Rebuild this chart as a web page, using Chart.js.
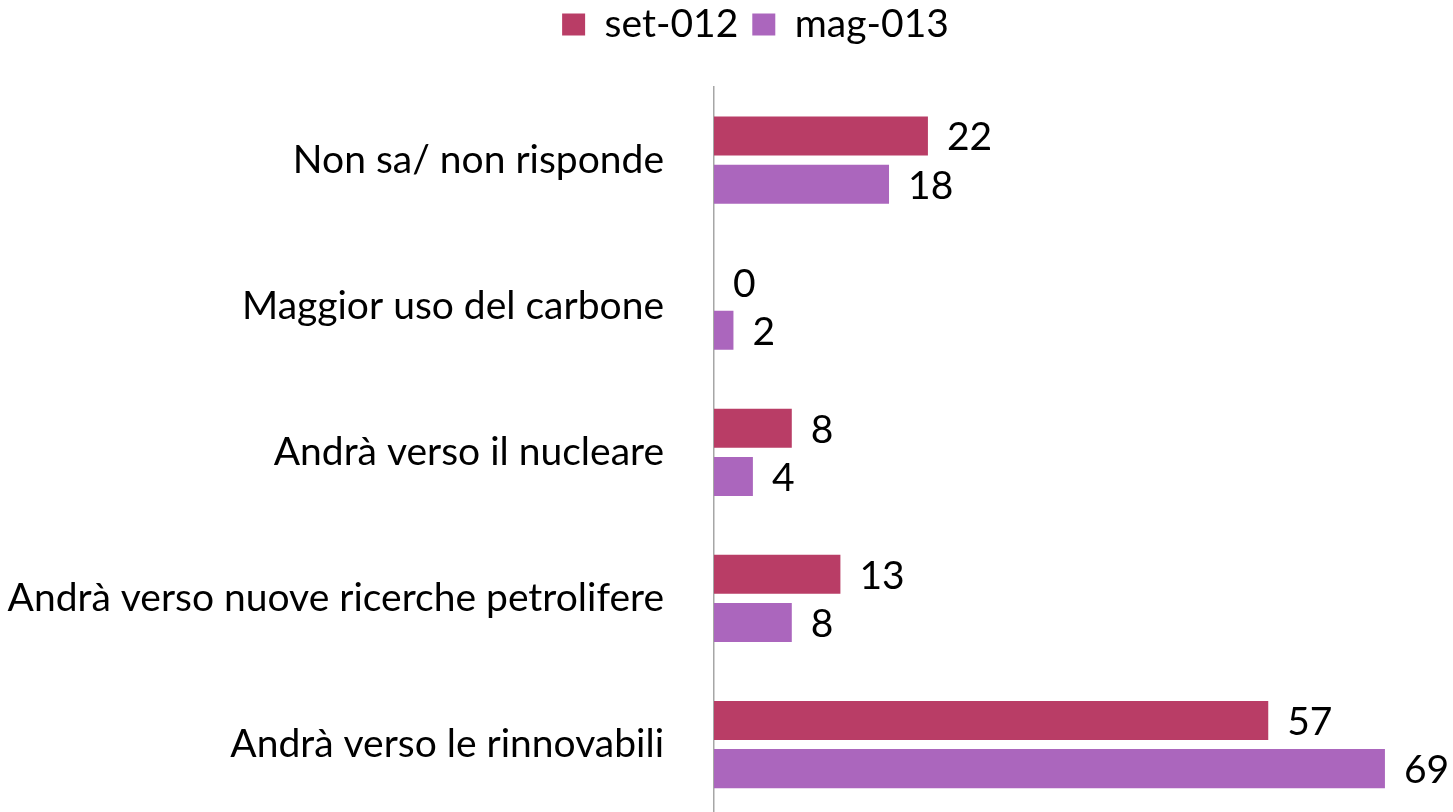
<!DOCTYPE html>
<html>
<head>
<meta charset="utf-8">
<script src="https://cdn.jsdelivr.net/npm/chart.js@4.4.0/dist/chart.umd.min.js"></script>
<style>
  html, body { margin: 0; padding: 0; background: #fff; overflow: hidden; }
  #wrap { position: relative; width: 1453px; height: 812px; overflow: hidden; }
</style>
</head>
<body>
<div id="wrap"><canvas id="c" width="1453" height="883"></canvas></div>
<script>
const categories = [
  "Non sa/ non risponde",
  "Maggior uso del carbone",
  "Andrà verso il nucleare",
  "Andrà verso nuove ricerche petrolifere",
  "Andrà verso le rinnovabili"
];
const seriesNames = ["set-012", "mag-013"];
const set012 = [22, 0, 8, 13, 57];
const mag013 = [18, 2, 4, 8, 69];
const colors = ["#B93D66", "#AB66BD"];
const FONT = "Lato, 'Open Sans', sans-serif";
const FS = 39;

const valueLabels = {
  id: "valueLabels",
  afterDatasetsDraw(chart) {
    const ctx = chart.ctx;
    ctx.save();
    ctx.font = FS + "px " + FONT;
    ctx.fillStyle = "#000";
    ctx.textAlign = "left";
    ctx.textBaseline = "alphabetic";
    chart.data.datasets.forEach((ds, i) => {
      const meta = chart.getDatasetMeta(i);
      meta.data.forEach((bar, j) => {
        ctx.fillText(String(ds.data[j]), bar.x + 19, bar.y + 14.5);
      });
    });
    ctx.restore();
  }
};

const legendTweak = {
  id: "legendTweak",
  beforeInit(chart) {
    const fit = chart.legend.fit;
    chart.legend.fit = function () {
      fit.bind(chart.legend)();
      this.height = 87;
    };
  },
  afterLayout(chart) {
    const lg = chart.legend;
    lg.top = -9;
    lg.bottom = lg.top + lg.height;
    lg.left += 29;
    lg.right += 29;
  }
};

new Chart(document.getElementById("c"), {
  type: "bar",
  data: {
    labels: categories,
    datasets: [
      { label: seriesNames[0], data: set012, backgroundColor: colors[0] },
      { label: seriesNames[1], data: mag013, backgroundColor: colors[1] }
    ]
  },
  options: {
    indexAxis: "y",
    responsive: false,
    animation: false,
    categoryPercentage: 0.66,
    barPercentage: 0.81,
    layout: { padding: 0 },
    plugins: {
      legend: {
        position: "top",
        labels: {
          font: { family: FONT, size: FS },
          color: "#000",
          boxWidth: 23,
          boxHeight: 22,
          padding: 14
        }
      },
      tooltip: { enabled: false }
    },
    scales: {
      x: { display: false, min: 0, max: 76 },
      y: {
        grid: { display: false },
        border: { display: true, color: "#A6A6A6", width: 1.5 },
        ticks: {
          font: { family: FONT, size: FS },
          color: "#000",
          padding: 42
        },
        afterFit(scale) { scale.width = 714; }
      }
    }
  },
  plugins: [valueLabels, legendTweak]
});
</script>
</body>
</html>
